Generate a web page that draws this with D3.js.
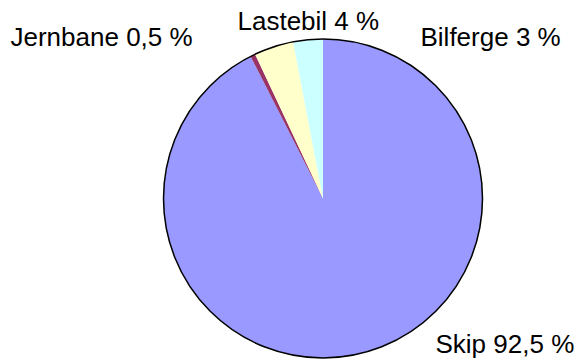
<!DOCTYPE html>
<html>
<head>
<meta charset="utf-8">
<script src="https://cdn.jsdelivr.net/npm/d3@7"></script>
<style>
  html, body { margin: 0; padding: 0; background: #fff; }
  svg { display: block; }
  text { font-family: "Liberation Sans", Arial, sans-serif; fill: #000; }
</style>
</head>
<body>
<svg id="chart" width="581" height="360"></svg>
<script>
// Transport shares (percent)
const categories = ["Skip", "Jernbane", "Lastebil", "Bilferge"];
const values = [92.5, 0.5, 4, 3];
const valueLabels = ["92,5 %", "0,5 %", "4 %", "3 %"];
const colors = ["#9999FF", "#993366", "#FFFFCC", "#CCFFFF"];

// Label placement (text start x, baseline y)
const labelLayout = [
  { x: 435.5, y: 353 },
  { x: 10.5,  y: 46 },
  { x: 237.5, y: 29.5 },
  { x: 420.5, y: 45.5 }
];

const cx = 323, cy = 198.5, radius = 159.5;

const svg = d3.select("#chart");
const g = svg.append("g").attr("transform", `translate(${cx},${cy})`);

const pie = d3.pie().sort(null).value(d => d);
const arc = d3.arc().innerRadius(0).outerRadius(radius);

g.selectAll("path.slice")
  .data(pie(values))
  .join("path")
  .attr("class", "slice")
  .attr("d", arc)
  .attr("fill", (d, i) => colors[i]);

g.append("circle")
  .attr("r", radius)
  .attr("fill", "none")
  .attr("stroke", "#000")
  .attr("stroke-width", 1.5);

svg.selectAll("text.label")
  .data(categories)
  .join("text")
  .attr("class", "label")
  .attr("x", (d, i) => labelLayout[i].x)
  .attr("y", (d, i) => labelLayout[i].y)
  .attr("font-size", "26px")
  .text((d, i) => `${d} ${valueLabels[i]}`);
</script>
</body>
</html>
